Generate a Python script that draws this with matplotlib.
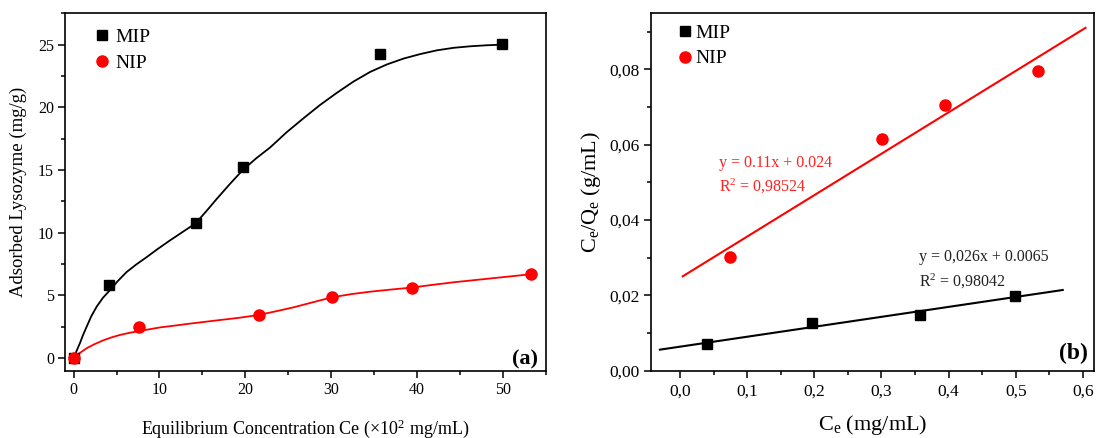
import matplotlib
matplotlib.use("Agg")
import matplotlib.pyplot as plt
import numpy as np
from matplotlib.ticker import MultipleLocator, FuncFormatter

plt.rcParams['font.family'] = ['Liberation Serif', 'DejaVu Serif']
plt.rcParams['mathtext.fontset'] = 'custom'
plt.rcParams['mathtext.rm'] = 'Liberation Serif'
plt.rcParams['mathtext.it'] = 'Liberation Serif:italic'

# ---------------- Panel (a) data ----------------
mip_a_x = [0.0, 4.17, 14.3, 19.7, 35.7, 49.9]
mip_a_y = [0.0, 5.84, 10.75, 15.26, 24.28, 25.08]
nip_a_x = [0.0, 7.57, 21.6, 30.1, 39.4, 53.3]
nip_a_y = [0.0, 2.47, 3.45, 4.91, 5.63, 6.69]

mip_curve_x = [0, 0.15, 0.45, 0.73, 1.1, 1.52, 2.05, 2.68, 3.4, 4.23, 5.15, 6.18, 7.3, 8.52,
               9.85, 11.23, 12.7, 14.23, 15.4, 16.68, 18.2, 19.71, 21.3, 22.9, 24.8,
               26.79, 28.7, 30.68, 32.6, 34.57, 36.5, 38.45, 40.4, 42.35, 44.3, 46.23,
               48.1, 49.9]
mip_curve_y = [0, 0.26, 0.75, 1.19, 1.85, 2.51, 3.33, 4.10, 4.80, 5.42, 6.15, 6.87, 7.47, 8.06,
               8.73, 9.39, 10.06, 10.76, 11.67, 12.70, 13.88, 15.0, 15.95, 16.8, 18.0,
               19.13, 20.18, 21.16, 22.05, 22.83, 23.42, 23.89, 24.25, 24.55, 24.75, 24.87,
               24.95, 25.0]
nip_curve_x = [0, 0.7, 1.52, 2.45, 3.45, 4.4, 5.4, 6.45, 7.54, 8.8, 10.07, 11.6, 13.18,
               15.1, 17.07, 19.3, 21.54, 23.6, 25.62, 27.9, 30.1, 32.3, 34.57, 37.0,
               39.43, 41.9, 44.29, 46.4, 48.5, 50.9, 53.3]
nip_curve_y = [0, 0.4, 0.79, 1.12, 1.42, 1.65, 1.85, 2.01, 2.15, 2.30, 2.45, 2.58, 2.72,
               2.88, 3.04, 3.22, 3.44, 3.74, 4.05, 4.46, 4.85, 5.1, 5.3, 5.47,
               5.63, 5.85, 6.05, 6.2, 6.35, 6.52, 6.69]

# ---------------- Panel (b) data ----------------
mip_b_x = [0.040, 0.196, 0.357, 0.499]
mip_b_y = [0.0070, 0.0127, 0.0147, 0.0199]
nip_b_x = [0.074, 0.301, 0.394, 0.533]
nip_b_y = [0.0301, 0.0614, 0.0704, 0.0796]
mip_fit_range = [-0.03, 0.57]
nip_fit_range = [0.004, 0.604]

fig = plt.figure(figsize=(10.97, 4.38), dpi=100)

def style(ax):
    for s in ax.spines.values():
        s.set_linewidth(1.2)
    ax.tick_params(which='both', direction='out', top=False, right=False, width=1.1)
    ax.tick_params(which='major', length=5)
    ax.tick_params(which='minor', length=3)

# ---- (a)
axa = fig.add_axes([0.0593, 0.1537, 0.438, 0.8159])
style(axa)
axa.plot(mip_curve_x, mip_curve_y, color='black', lw=1.3, zorder=2)
axa.plot(nip_curve_x, nip_curve_y, color='#ff0000', lw=1.3, zorder=2)
axa.plot(mip_a_x, mip_a_y, 's', color='black', ms=7.5, ls='none', label='MIP', zorder=3)
axa.plot(nip_a_x, nip_a_y, 'o', color='#ff0000', ms=8, ls='none', label='NIP', zorder=4)
axa.set_xlim(-1, 55)
axa.set_ylim(-1.0, 27.5)
axa.xaxis.set_major_locator(MultipleLocator(10))
axa.xaxis.set_minor_locator(MultipleLocator(5))
axa.yaxis.set_major_locator(MultipleLocator(5))
axa.yaxis.set_minor_locator(MultipleLocator(2.5))
axa.tick_params(which='major', labelsize=11.5, pad=3)
axa.set_xlabel(r'Equilibrium Concentration Ce ($\times$10$^{2}$ mg/mL)', fontsize=13, labelpad=14)
axa.set_ylabel('Adsorbed Lysozyme (mg/g)', fontsize=13.5, labelpad=8)
axa.legend(loc='upper left', bbox_to_anchor=(0.035, 0.99), frameon=False, fontsize=14,
           handlelength=0.9, handletextpad=0.2, labelspacing=0.42, borderaxespad=0.2)
axa.text(0.985, 0.002, '(a)', transform=axa.transAxes, ha='right', va='bottom',
         fontsize=16, fontweight='bold')

# ---- (b)
axb = fig.add_axes([0.5936, 0.1537, 0.4039, 0.8173])
style(axb)
mfit = np.polyfit(mip_b_x, mip_b_y, 1)
nfit = np.polyfit(nip_b_x, nip_b_y, 1)
xm = np.array(mip_fit_range)
xn = np.array(nip_fit_range)
axb.plot(xm, np.polyval(mfit, xm), color='black', lw=1.5, zorder=2)
axb.plot(xn, np.polyval(nfit, xn), color='#ff0000', lw=1.5, zorder=2)
axb.plot(mip_b_x, mip_b_y, 's', color='black', ms=7.5, ls='none', label='MIP', zorder=3)
axb.plot(nip_b_x, nip_b_y, 'o', color='#ff0000', ms=8, ls='none', label='NIP', zorder=3)
axb.set_xlim(-0.043, 0.617)
axb.set_ylim(0, 0.095)
axb.xaxis.set_major_locator(MultipleLocator(0.1))
axb.xaxis.set_minor_locator(MultipleLocator(0.05))
axb.yaxis.set_major_locator(MultipleLocator(0.02))
axb.yaxis.set_minor_locator(MultipleLocator(0.01))
axb.xaxis.set_major_formatter(FuncFormatter(lambda v, p: f'{v:.1f}'.replace('.', ',')))
axb.yaxis.set_major_formatter(FuncFormatter(lambda v, p: f'{v:.2f}'.replace('.', ',')))
axb.tick_params(which='major', labelsize=12.5)
axb.tick_params(axis='x', which='major', pad=4)
axb.set_xlabel(r'C$_\mathrm{e}$ (mg/mL)', fontsize=16, labelpad=10)
axb.set_ylabel(r'C$_\mathrm{e}$/Q$_\mathrm{e}$ (g/mL)', fontsize=16, labelpad=4)
axb.legend(loc='upper left', bbox_to_anchor=(0.03, 1.0), frameon=False, fontsize=14,
           handlelength=0.9, handletextpad=0.1, labelspacing=0.4, borderaxespad=0.2)
axb.text(0.058, 0.055, 'y = 0.11x + 0.024', color='#ff2020', fontsize=11.5, va='center')
axb.text(0.058, 0.0489, r'R$^2$ = 0,98524', color='#ff2020', fontsize=11.5, va='center')
axb.text(0.356, 0.0303, 'y = 0,026x + 0.0065', color='#222222', fontsize=11.5, va='center')
axb.text(0.356, 0.0238, r'R$^2$ = 0,98042', color='#222222', fontsize=11.5, va='center')
axb.text(0.985, 0.018, '(b)', transform=axb.transAxes, ha='right', va='bottom',
         fontsize=17, fontweight='bold')

fig.savefig('out.png', dpi=100)
